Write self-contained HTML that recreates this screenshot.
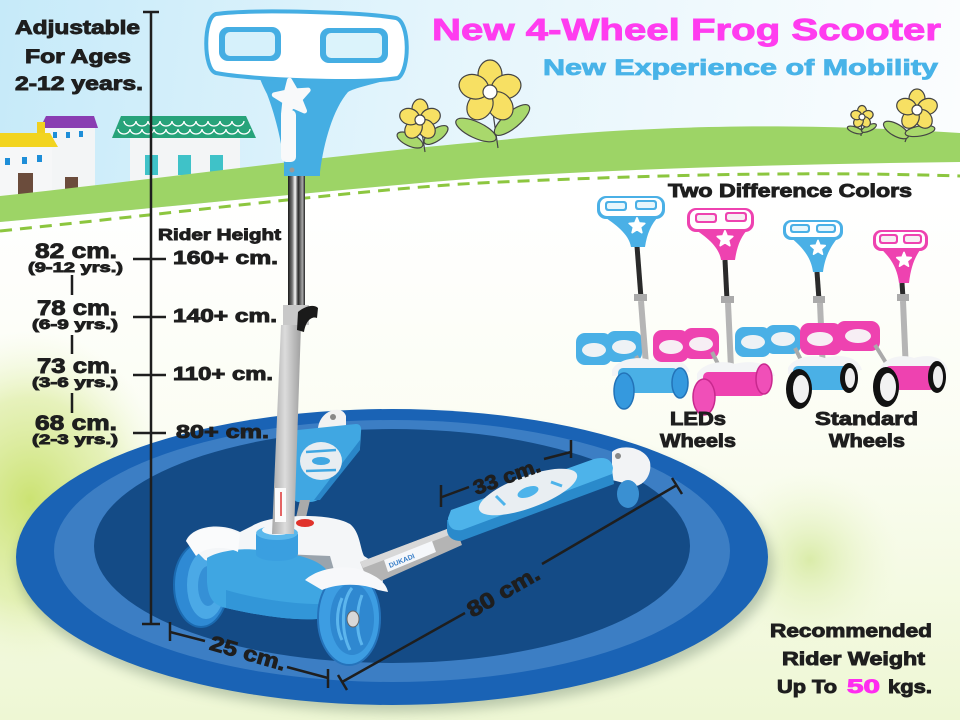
<!DOCTYPE html>
<html><head><meta charset="utf-8"><style>
html,body{margin:0;padding:0;width:960px;height:720px;overflow:hidden;background:#fff}
svg{display:block}
text{font-family:"Liberation Sans",Arial,sans-serif;font-weight:bold}
.k{fill:#1e1e1e;stroke:#1e1e1e;stroke-width:0.9}
</style></head><body>
<svg width="960" height="720" viewBox="0 0 960 720" xmlns="http://www.w3.org/2000/svg">
<defs>
<linearGradient id="sky" x1="0" y1="0" x2="960" y2="120" gradientUnits="userSpaceOnUse">
 <stop offset="0" stop-color="#c6eaf9"/>
 <stop offset="0.45" stop-color="#e4f5fc"/>
 <stop offset="1" stop-color="#fbfdfe"/>
</linearGradient>
<linearGradient id="ground" x1="0" y1="200" x2="0" y2="720" gradientUnits="userSpaceOnUse">
 <stop offset="0" stop-color="#ffffff"/>
 <stop offset="0.45" stop-color="#fbfdf3"/>
 <stop offset="1" stop-color="#eef7d4"/>
</linearGradient>
<radialGradient id="grassL" cx="0.5" cy="0.5" r="0.5">
 <stop offset="0" stop-color="#c9e16c" stop-opacity="0.95"/>
 <stop offset="0.6" stop-color="#d8ea95" stop-opacity="0.6"/>
 <stop offset="1" stop-color="#eef7d4" stop-opacity="0"/>
</radialGradient>
<radialGradient id="grassR" cx="0.5" cy="0.5" r="0.5">
 <stop offset="0" stop-color="#d3e89a" stop-opacity="0.8"/>
 <stop offset="1" stop-color="#eef7d4" stop-opacity="0"/>
</radialGradient>
<linearGradient id="chrome" x1="0" y1="0" x2="1" y2="0">
 <stop offset="0" stop-color="#1a1a1a"/>
 <stop offset="0.25" stop-color="#777"/>
 <stop offset="0.42" stop-color="#fafafa"/>
 <stop offset="0.6" stop-color="#2a2a2a"/>
 <stop offset="0.85" stop-color="#aaa"/>
 <stop offset="1" stop-color="#222"/>
</linearGradient>
<linearGradient id="grey" x1="0" y1="0" x2="1" y2="0">
 <stop offset="0" stop-color="#a9a9a9"/>
 <stop offset="0.45" stop-color="#dcdcdc"/>
 <stop offset="1" stop-color="#a0a0a0"/>
</linearGradient>
<filter id="blur6"><feGaussianBlur stdDeviation="6"/></filter>
</defs>

<!-- BACKGROUND -->
<rect x="0" y="0" width="960" height="260" fill="url(#sky)"/>
<path d="M0,222 C160,208 330,190 480,178 C640,168 800,164 960,162 L960,720 L0,720 Z" fill="url(#ground)"/>
<ellipse cx="30" cy="500" rx="140" ry="170" fill="url(#grassL)"/>
<ellipse cx="810" cy="560" rx="90" ry="90" fill="url(#grassR)"/>

<!-- houses -->
<rect x="45" y="126" width="50" height="70" fill="#f3f5f6"/>
<path d="M40,128 L46,116 L94,116 L98,128 Z" fill="#8a3db2"/>
<rect x="53" y="132" width="4" height="6" fill="#1e8ed8"/><rect x="66" y="132" width="4" height="6" fill="#1e8ed8"/><rect x="79" y="131" width="4" height="6" fill="#1e8ed8"/>
<rect x="65" y="177" width="13" height="19" fill="#6b4c3c"/>
<rect x="37" y="122" width="8" height="13" fill="#f0d020"/>
<rect x="0" y="146" width="52" height="52" fill="#f6f7f8"/>
<path d="M0,133 L50,133 L58,147 L0,147 Z" fill="#f2d420"/>
<rect x="5" y="158" width="5" height="7" fill="#1e8ed8"/><rect x="22" y="157" width="5" height="7" fill="#1e8ed8"/><rect x="37" y="155" width="5" height="7" fill="#1e8ed8"/>
<rect x="18" y="173" width="15" height="24" fill="#6b4c3c"/>
<rect x="130" y="137" width="110" height="50" fill="#f3f5f6"/>
<path d="M121,116 L246,116 L256,138 L112,138 Z" fill="#27a37a"/>
<path d="M124,121 a6,5 0 0 0 12,0 a6,5 0 0 0 12,0 a6,5 0 0 0 12,0 a6,5 0 0 0 12,0 a6,5 0 0 0 12,0 a6,5 0 0 0 12,0 a6,5 0 0 0 12,0 a6,5 0 0 0 12,0 a6,5 0 0 0 12,0 a6,5 0 0 0 12,0 M118,129 a6,5 0 0 0 12,0 a6,5 0 0 0 12,0 a6,5 0 0 0 12,0 a6,5 0 0 0 12,0 a6,5 0 0 0 12,0 a6,5 0 0 0 12,0 a6,5 0 0 0 12,0 a6,5 0 0 0 12,0 a6,5 0 0 0 12,0 a6,5 0 0 0 12,0 a6,5 0 0 0 12,0" fill="none" stroke="#fff" stroke-width="1.3"/>
<rect x="145" y="155" width="13" height="20" fill="#3fc2c8"/><rect x="178" y="155" width="13" height="20" fill="#3fc2c8"/><rect x="210" y="155" width="13" height="20" fill="#3fc2c8"/>

<!-- green hill -->
<path d="M0,196 C150,180 330,155 480,142 C620,128 760,120 960,133 L960,162 C800,164 640,168 480,178 C330,190 160,208 0,222 Z" fill="#9dd466"/>
<path d="M0,231 C200,210 380,188 480,183 C650,175 800,171 960,176" fill="none" stroke="#8cc63f" stroke-width="3" stroke-dasharray="12 8"/>

<!-- flowers -->
<g stroke="#444" stroke-width="1.2">
 <line x1="420" y1="120" x2="425" y2="152"/>
 <ellipse cx="410" cy="140" rx="14" ry="6" transform="rotate(25 410 140)" fill="#a9d86c"/>
 <ellipse cx="436" cy="135" rx="14" ry="6" transform="rotate(-35 436 135)" fill="#a9d86c"/>
 <g transform="translate(420,120)" fill="#f7e063">
  <ellipse cx="0" cy="-11" rx="8" ry="10"/><ellipse cx="0" cy="-11" rx="8" ry="10" transform="rotate(72)"/><ellipse cx="0" cy="-11" rx="8" ry="10" transform="rotate(144)"/><ellipse cx="0" cy="-11" rx="8" ry="10" transform="rotate(216)"/><ellipse cx="0" cy="-11" rx="8" ry="10" transform="rotate(288)"/>
  <circle r="5" fill="#fff"/>
 </g>
 <line x1="490" y1="92" x2="498" y2="148"/>
 <ellipse cx="476" cy="130" rx="22" ry="8" transform="rotate(25 476 130)" fill="#a9d86c"/>
 <ellipse cx="512" cy="120" rx="22" ry="8" transform="rotate(-40 512 120)" fill="#a9d86c"/>
 <g transform="translate(490,92)" fill="#f7e063">
  <ellipse cx="0" cy="-17" rx="12" ry="15"/><ellipse cx="0" cy="-17" rx="12" ry="15" transform="rotate(72)"/><ellipse cx="0" cy="-17" rx="12" ry="15" transform="rotate(144)"/><ellipse cx="0" cy="-17" rx="12" ry="15" transform="rotate(216)"/><ellipse cx="0" cy="-17" rx="12" ry="15" transform="rotate(288)"/>
  <circle r="7" fill="#fff"/>
 </g>
 <line x1="862" y1="118" x2="861" y2="136"/>
 <ellipse cx="855" cy="130" rx="8" ry="3" transform="rotate(20 855 130)" fill="#a9d86c"/>
 <ellipse cx="869" cy="128" rx="8" ry="3" transform="rotate(-25 869 128)" fill="#a9d86c"/>
 <g transform="translate(862,117)" fill="#f7e063">
  <ellipse cx="0" cy="-6" rx="4.5" ry="5.5"/><ellipse cx="0" cy="-6" rx="4.5" ry="5.5" transform="rotate(72)"/><ellipse cx="0" cy="-6" rx="4.5" ry="5.5" transform="rotate(144)"/><ellipse cx="0" cy="-6" rx="4.5" ry="5.5" transform="rotate(216)"/><ellipse cx="0" cy="-6" rx="4.5" ry="5.5" transform="rotate(288)"/>
  <circle r="3" fill="#fff"/>
 </g>
 <line x1="917" y1="110" x2="905" y2="142"/>
 <ellipse cx="896" cy="130" rx="14" ry="6" transform="rotate(30 896 130)" fill="#a9d86c"/>
 <ellipse cx="920" cy="131" rx="15" ry="5" transform="rotate(-10 920 131)" fill="#a9d86c"/>
 <g transform="translate(917,110)" fill="#f7e063">
  <ellipse cx="0" cy="-11" rx="8" ry="10"/><ellipse cx="0" cy="-11" rx="8" ry="10" transform="rotate(72)"/><ellipse cx="0" cy="-11" rx="8" ry="10" transform="rotate(144)"/><ellipse cx="0" cy="-11" rx="8" ry="10" transform="rotate(216)"/><ellipse cx="0" cy="-11" rx="8" ry="10" transform="rotate(288)"/>
  <circle r="5" fill="#fff"/>
 </g>
</g>

<!-- BIG ELLIPSE -->
<ellipse cx="395" cy="566" rx="378" ry="146" fill="#55705a" opacity="0.35" filter="url(#blur6)"/>
<ellipse cx="392" cy="557" rx="376" ry="148" fill="#1a63b5"/>
<ellipse cx="392" cy="551" rx="338" ry="131" fill="#3c7ec4"/>
<ellipse cx="392" cy="546" rx="298" ry="117" fill="#144b86"/>

<!-- MAIN SCOOTER -->
<path d="M318,428 C320,410 342,404 346,416 L346,430 L320,432 Z" fill="#f2f2f2"/>
<circle cx="333" cy="417" r="3" fill="#888"/>
<path d="M298,430 L356,424 Q362,424 361,432 L360,448 L320,498 Q316,502 310,502 L298,502 Q293,501 294,495 L294,436 Q294,431 298,430 Z" fill="#40a7e2"/>
<path d="M360,440 L360,450 L320,500 L314,500 Z" fill="#2a86c8"/>
<ellipse cx="321" cy="461" rx="21" ry="19" fill="#e8edf1"/>
<ellipse cx="321" cy="461" rx="9" ry="4" fill="#40a7e2"/>
<path d="M306,452 L336,450 M306,471 L336,470" stroke="#40a7e2" stroke-width="2.5"/>
<path d="M300,500 L310,500 L305,522 L295,522 Z" fill="#aaa"/>

<ellipse cx="201" cy="585" rx="27" ry="42" fill="#2f8ad4" stroke="#1b6ab0" stroke-width="2"/>
<ellipse cx="206" cy="585" rx="19" ry="34" fill="#4ba9e6"/>
<ellipse cx="208" cy="586" rx="10" ry="20" fill="#3590d6"/>

<path d="M186,541 C192,526 220,522 240,532 L252,526 C270,514 330,512 350,524 C360,532 360,548 364,556 C374,562 386,572 382,586 L330,584 L240,570 L205,560 Z" fill="#f4f6f8"/>
<ellipse cx="305" cy="523" rx="9" ry="4" fill="#e0332c"/>
<path d="M258,553 L330,556 L334,570 L262,566 Z" fill="#9aa4ad"/>
<path d="M207,558 C220,550 245,548 258,550 L300,556 C315,560 328,566 332,580 L326,618 C300,622 260,616 226,608 C212,605 208,596 207,582 Z" fill="#3fa6e2"/>
<path d="M226,590 C260,600 300,605 328,604 L326,618 C300,622 260,616 226,608 Z" fill="#3296d8"/>
<rect x="256" y="534" width="42" height="20" fill="#3a9fe0"/>
<ellipse cx="277" cy="554" rx="21" ry="7" fill="#3a9fe0"/>
<ellipse cx="277" cy="533" rx="21" ry="7" fill="#5bb8ec"/>
<ellipse cx="277" cy="530" rx="15" ry="5" fill="#f4f6f8"/>
<path d="M186,541 C194,526 222,524 240,534 L238,552 C226,546 206,546 196,556 Z" fill="#fafbfc"/>

<path d="M360,562 L455,526 L462,545 L370,586 Z" fill="#b4b4b4"/>
<path d="M360,562 L455,526 L457,532 L363,568 Z" fill="#d8d8d8"/>
<path d="M384,560 L432,541 L436,552 L388,572 Z" fill="#f5f7fa"/>
<text x="0" y="0" font-size="7" fill="#3a7fc8" transform="translate(390,568) rotate(-22)">DUKADI</text>

<ellipse cx="349" cy="618" rx="31" ry="47" fill="#3d9de2" stroke="#2573bb" stroke-width="2"/>
<ellipse cx="352" cy="619" rx="22" ry="36" fill="#2f88d0"/>
<path d="M352,588 C342,600 340,630 350,650 M362,595 C356,610 356,632 362,645 M342,598 C336,612 336,628 342,640" stroke="#5cb6ee" stroke-width="3" fill="none"/>
<ellipse cx="353" cy="619" rx="6" ry="8" fill="#d8d8d8" stroke="#666" stroke-width="1"/>
<path d="M305,580 C320,566 352,564 366,572 C376,576 386,582 388,592 L378,590 C366,584 340,582 322,590 Z" fill="#f7f8fa"/>

<path d="M612,452 C620,444 645,446 650,462 C652,474 645,484 636,486 L612,480 Z" fill="#f2f3f5"/>
<circle cx="618" cy="456" r="3" fill="#888"/>
<ellipse cx="628" cy="494" rx="11" ry="14" fill="#3a90d2"/>
<path d="M447,520 L612,470 L614,484 L461,541 Q449,541 447,531 Z" fill="#2a8acb"/>
<path d="M451,510 L594,459 Q611,455 613,468 L612,474 L462,530 Q448,532 448,518 Z" fill="#4db3ea"/>
<ellipse cx="528" cy="492" rx="52" ry="16" transform="rotate(-20 528 492)" fill="#e9eef2"/>
<ellipse cx="528" cy="492" rx="11" ry="5" transform="rotate(-20 528 492)" fill="#4db3ea"/>
<path d="M505,505 L496,496 M551,482 L562,486" stroke="#4db3ea" stroke-width="3"/>

<path d="M281,325 L301,325 L294,534 L272,534 Z" fill="url(#grey)"/>
<rect x="275" y="488" width="11" height="34" fill="#fafafa"/>
<line x1="281" y1="492" x2="281" y2="516" stroke="#d33" stroke-width="1.5"/>
<rect x="288" y="172" width="17" height="138" fill="url(#chrome)"/>
<rect x="283" y="305" width="26" height="20" fill="#c8c8c8"/>
<path d="M298,312 C305,306 314,304 318,308 L317,318 C312,316 306,320 304,332 L297,330 Z" fill="#1a1a1a"/>

<!-- handlebar -->
<path d="M258,68 L402,70 C396,82 362,84 348,92 C334,108 324,140 320,172 L285,172 C282,140 274,112 267,94 C262,84 258,76 258,68 Z" fill="#45aee3"/>
<path d="M216,14 C252,9 362,12 396,18 C410,22 410,70 398,78 C362,84 252,80 216,73 C203,70 203,17 216,14 Z" fill="#fff" stroke="#45aee3" stroke-width="4"/>
<rect x="219" y="27" width="62" height="34" rx="9" fill="#45aee3"/>
<rect x="225" y="32" width="50" height="24" rx="5" fill="#d6f1fb"/>
<rect x="320" y="28" width="68" height="35" rx="9" fill="#45aee3"/>
<rect x="326" y="33" width="56" height="25" rx="5" fill="#dbf3fb"/>
<rect x="281" y="110" width="15" height="52" rx="5" fill="#f8f9fa"/>
<polygon transform="translate(292,98) rotate(-8)" points="0,-18 4.7,-6.5 17.1,-5.6 7.6,2.5 10.6,14.6 0,8 -10.6,14.6 -7.6,2.5 -17.1,-5.6 -4.7,-6.5" fill="#f8f9fa" stroke="#f8f9fa" stroke-width="5" stroke-linejoin="round"/>
<rect x="284" y="164" width="36" height="12" fill="#45aee3"/>
<circle cx="292" cy="170" r="2.5" fill="#999"/>

<!-- SMALL SCOOTERS -->
<g>
 <rect x="576" y="333" width="36" height="32" rx="9" fill="#4ab0e6"/><rect x="606" y="331" width="36" height="31" rx="9" fill="#4ab0e6"/>
 <ellipse cx="594" cy="350" rx="12" ry="7" fill="#eef2f5"/><ellipse cx="624" cy="347" rx="12" ry="7" fill="#eef2f5"/>
 <line x1="636" y1="356" x2="645" y2="372" stroke="#aaa" stroke-width="4"/>
 <line x1="637" y1="246" x2="641" y2="298" stroke="#2a2a2a" stroke-width="5"/>
 <rect x="634" y="294" width="13" height="7" fill="#aaa"/>
 <line x1="641" y1="301" x2="646" y2="365" stroke="#b5b5b5" stroke-width="6"/>
 <path d="M612,370 C618,358 640,356 650,360 C665,356 685,358 690,372 L612,376 Z" fill="#f3f4f6"/>
 <rect x="618" y="368" width="60" height="25" rx="5" fill="#4ab0e6"/>
 <ellipse cx="624" cy="391" rx="10" ry="18" fill="#3599de" stroke="#2373b8" stroke-width="1.5"/>
 <ellipse cx="680" cy="383" rx="8" ry="15" fill="#3599de" stroke="#2373b8" stroke-width="1.5"/>
 <g transform="translate(597,196)">
  <path d="M6,20 L62,20 C54,28 50,38 48,51 L34,51 C32,38 18,28 6,20 Z" fill="#4ab0e6"/>
  <rect x="0" y="0" width="68" height="23" rx="9" fill="#4ab0e6"/><rect x="3" y="2" width="62" height="18" rx="7" fill="#fff"/>
  <rect x="8" y="5" width="22" height="10" rx="3" fill="#4ab0e6"/><rect x="10" y="7" width="18" height="6" rx="2" fill="#e6f6fc"/>
  <rect x="38" y="4" width="22" height="10" rx="3" fill="#4ab0e6"/><rect x="40" y="6" width="18" height="6" rx="2" fill="#e6f6fc"/>
  <polygon transform="translate(40,30) scale(0.45)" points="0,-18 4.7,-6.5 17.1,-5.6 7.6,2.5 10.6,14.6 0,8 -10.6,14.6 -7.6,2.5 -17.1,-5.6 -4.7,-6.5" fill="#fff" stroke="#fff" stroke-width="4" stroke-linejoin="round"/>
 </g>
</g>
<g>
 <rect x="653" y="330" width="36" height="32" rx="9" fill="#ee42b0"/><rect x="683" y="328" width="36" height="31" rx="9" fill="#ee42b0"/>
 <ellipse cx="671" cy="347" rx="12" ry="7" fill="#f7eef4"/><ellipse cx="701" cy="344" rx="12" ry="7" fill="#f7eef4"/>
 <line x1="712" y1="352" x2="722" y2="372" stroke="#aaa" stroke-width="4"/>
 <line x1="725" y1="260" x2="727" y2="300" stroke="#2a2a2a" stroke-width="5"/>
 <rect x="721" y="296" width="13" height="7" fill="#aaa"/>
 <line x1="728" y1="303" x2="731" y2="368" stroke="#b5b5b5" stroke-width="6"/>
 <path d="M697,374 C703,362 725,360 735,364 C750,360 770,362 775,376 L697,380 Z" fill="#f3f4f6"/>
 <rect x="703" y="372" width="62" height="24" rx="5" fill="#ee42b0"/>
 <ellipse cx="704" cy="397" rx="11" ry="18" fill="#f04fb8" stroke="#c8288e" stroke-width="1.5"/>
 <ellipse cx="764" cy="379" rx="8" ry="15" fill="#f04fb8" stroke="#c8288e" stroke-width="1.5"/>
 <g transform="translate(687,208)">
  <path d="M6,20 L62,20 C54,28 50,38 48,52 L34,52 C32,38 18,28 6,20 Z" fill="#ee42b0"/>
  <rect x="0" y="0" width="67" height="24" rx="9" fill="#ee42b0"/><rect x="3" y="2" width="61" height="19" rx="7" fill="#fff"/>
  <rect x="8" y="5" width="22" height="10" rx="3" fill="#ee42b0"/><rect x="10" y="7" width="18" height="6" rx="2" fill="#f6eef3"/>
  <rect x="38" y="4" width="22" height="10" rx="3" fill="#ee42b0"/><rect x="40" y="6" width="18" height="6" rx="2" fill="#f6eef3"/>
  <polygon transform="translate(38,31) scale(0.45)" points="0,-18 4.7,-6.5 17.1,-5.6 7.6,2.5 10.6,14.6 0,8 -10.6,14.6 -7.6,2.5 -17.1,-5.6 -4.7,-6.5" fill="#fff" stroke="#fff" stroke-width="4" stroke-linejoin="round"/>
 </g>
</g>
<g>
 <rect x="735" y="327" width="36" height="30" rx="9" fill="#4ab0e6"/><rect x="765" y="325" width="36" height="29" rx="9" fill="#4ab0e6"/>
 <ellipse cx="753" cy="342" rx="12" ry="7" fill="#eef2f5"/><ellipse cx="783" cy="339" rx="12" ry="7" fill="#eef2f5"/>
 <line x1="795" y1="348" x2="805" y2="368" stroke="#aaa" stroke-width="4"/>
 <line x1="817" y1="272" x2="819" y2="300" stroke="#2a2a2a" stroke-width="5"/>
 <rect x="813" y="296" width="12" height="7" fill="#aaa"/>
 <line x1="820" y1="303" x2="823" y2="372" stroke="#b5b5b5" stroke-width="6"/>
 <path d="M788,368 C794,356 815,354 825,358 C840,354 858,356 862,370 L788,374 Z" fill="#f3f4f6"/>
 <rect x="793" y="366" width="58" height="24" rx="5" fill="#4ab0e6"/>
 <ellipse cx="799" cy="389" rx="13" ry="20" fill="#111"/><ellipse cx="801" cy="389" rx="8" ry="14" fill="#f2f2f2"/>
 <ellipse cx="849" cy="378" rx="9" ry="15" fill="#111"/><ellipse cx="850" cy="378" rx="5" ry="10" fill="#eee"/>
 <g transform="translate(783,220)">
  <path d="M6,16 L56,16 C48,26 42,36 40,52 L30,52 C28,36 18,26 6,16 Z" fill="#4ab0e6"/>
  <rect x="0" y="0" width="60" height="20" rx="8" fill="#4ab0e6"/><rect x="3" y="2" width="54" height="15" rx="6" fill="#fff"/>
  <rect x="7" y="4" width="20" height="9" rx="3" fill="#4ab0e6"/><rect x="9" y="6" width="16" height="5" rx="2" fill="#e6f6fc"/>
  <rect x="33" y="4" width="20" height="9" rx="3" fill="#4ab0e6"/><rect x="35" y="6" width="16" height="5" rx="2" fill="#e6f6fc"/>
  <polygon transform="translate(35,28) scale(0.42)" points="0,-18 4.7,-6.5 17.1,-5.6 7.6,2.5 10.6,14.6 0,8 -10.6,14.6 -7.6,2.5 -17.1,-5.6 -4.7,-6.5" fill="#fff" stroke="#fff" stroke-width="4" stroke-linejoin="round"/>
 </g>
</g>
<g>
 <rect x="800" y="323" width="42" height="32" rx="9" fill="#ee42b0"/><rect x="836" y="321" width="44" height="30" rx="9" fill="#ee42b0"/>
 <ellipse cx="820" cy="339" rx="13" ry="7" fill="#f7eef4"/><ellipse cx="858" cy="336" rx="13" ry="7" fill="#f7eef4"/>
 <line x1="875" y1="345" x2="888" y2="366" stroke="#aaa" stroke-width="4"/>
 <line x1="902" y1="283" x2="903" y2="298" stroke="#2a2a2a" stroke-width="5"/>
 <rect x="897" y="294" width="12" height="7" fill="#aaa"/>
 <line x1="903" y1="301" x2="906" y2="372" stroke="#b5b5b5" stroke-width="6"/>
 <path d="M880,368 C886,356 905,354 914,358 C928,354 944,356 948,370 L880,374 Z" fill="#f3f4f6"/>
 <rect x="885" y="366" width="50" height="24" rx="5" fill="#ee42b0"/>
 <ellipse cx="886" cy="387" rx="13" ry="20" fill="#111"/><ellipse cx="888" cy="387" rx="8" ry="14" fill="#f2f2f2"/>
 <ellipse cx="937" cy="377" rx="9" ry="16" fill="#111"/><ellipse cx="938" cy="377" rx="5" ry="11" fill="#eee"/>
 <g transform="translate(873,230)">
  <path d="M5,16 L50,16 C42,26 38,36 36,53 L26,53 C24,36 16,26 5,16 Z" fill="#ee42b0"/>
  <rect x="0" y="0" width="55" height="21" rx="8" fill="#ee42b0"/><rect x="3" y="2" width="49" height="16" rx="6" fill="#fff"/>
  <rect x="6" y="4" width="19" height="10" rx="3" fill="#ee42b0"/><rect x="8" y="6" width="15" height="6" rx="2" fill="#f6eef3"/>
  <rect x="30" y="4" width="19" height="10" rx="3" fill="#ee42b0"/><rect x="32" y="6" width="15" height="6" rx="2" fill="#f6eef3"/>
  <polygon transform="translate(31,30) scale(0.42)" points="0,-18 4.7,-6.5 17.1,-5.6 7.6,2.5 10.6,14.6 0,8 -10.6,14.6 -7.6,2.5 -17.1,-5.6 -4.7,-6.5" fill="#fff" stroke="#fff" stroke-width="4" stroke-linejoin="round"/>
 </g>
</g>

<!-- MEASUREMENT LINES -->
<g stroke="#1e1e1e" stroke-width="2.5" fill="none">
 <line x1="151" y1="12" x2="151" y2="624"/>
 <line x1="143" y1="12" x2="159" y2="12"/>
 <line x1="142" y1="624" x2="160" y2="624"/>
 <line x1="133" y1="259" x2="166" y2="259"/>
 <line x1="133" y1="317" x2="166" y2="317"/>
 <line x1="133" y1="375" x2="166" y2="375"/>
 <line x1="133" y1="433" x2="166" y2="433"/>
 <line x1="72" y1="275" x2="72" y2="295"/>
 <line x1="72" y1="335" x2="72" y2="354"/>
 <line x1="72" y1="393" x2="72" y2="413"/>
 <line x1="170" y1="622" x2="170" y2="641"/>
 <line x1="170" y1="632" x2="205" y2="641"/>
 <line x1="287" y1="667" x2="328" y2="678"/>
 <line x1="328" y1="669" x2="328" y2="688"/>
 <line x1="338" y1="675" x2="347" y2="690"/>
 <line x1="342" y1="682" x2="465" y2="613"/>
 <line x1="542" y1="564" x2="677" y2="485"/>
 <line x1="672" y1="478" x2="682" y2="494"/>
 <line x1="441" y1="485" x2="441" y2="507"/>
 <line x1="442" y1="497" x2="469" y2="487"/>
 <line x1="544" y1="459" x2="571" y2="452"/>
 <line x1="571" y1="440" x2="571" y2="458"/>
</g>

<!-- TEXT -->
<text class="k" x="15" y="34" font-size="19" textLength="125" lengthAdjust="spacingAndGlyphs">Adjustable</text>
<text class="k" x="25" y="63" font-size="19" textLength="106" lengthAdjust="spacingAndGlyphs">For Ages</text>
<text class="k" x="15" y="90" font-size="19" textLength="128" lengthAdjust="spacingAndGlyphs">2-12 years.</text>

<text x="432" y="40" font-size="31" fill="#ff3cef" stroke="#ff3cef" stroke-width="0.9" textLength="509" lengthAdjust="spacingAndGlyphs">New 4-Wheel Frog Scooter</text>
<text x="543" y="75" font-size="22" fill="#48b3e8" stroke="#48b3e8" stroke-width="0.8" textLength="395" lengthAdjust="spacingAndGlyphs">New Experience of Mobility</text>
<text class="k" x="668" y="197" font-size="18" textLength="244" lengthAdjust="spacingAndGlyphs">Two Difference Colors</text>

<text class="k" x="158" y="240" font-size="16" textLength="123" lengthAdjust="spacingAndGlyphs">Rider Height</text>
<text class="k" x="173" y="264" font-size="18" textLength="105" lengthAdjust="spacingAndGlyphs">160+ cm.</text>
<text class="k" x="173" y="322" font-size="18" textLength="104" lengthAdjust="spacingAndGlyphs">140+ cm.</text>
<text class="k" x="173" y="380" font-size="18" textLength="100" lengthAdjust="spacingAndGlyphs">110+ cm.</text>
<text class="k" x="176" y="438" font-size="18" textLength="93" lengthAdjust="spacingAndGlyphs">80+ cm.</text>

<text class="k" x="35" y="258" font-size="21" textLength="82" lengthAdjust="spacingAndGlyphs">82 cm.</text>
<text class="k" x="28" y="272" font-size="14" textLength="95" lengthAdjust="spacingAndGlyphs">(9-12 yrs.)</text>
<text class="k" x="37" y="315" font-size="21" textLength="80" lengthAdjust="spacingAndGlyphs">78 cm.</text>
<text class="k" x="32" y="329" font-size="14" textLength="86" lengthAdjust="spacingAndGlyphs">(6-9 yrs.)</text>
<text class="k" x="37" y="373" font-size="21" textLength="80" lengthAdjust="spacingAndGlyphs">73 cm.</text>
<text class="k" x="32" y="387" font-size="14" textLength="86" lengthAdjust="spacingAndGlyphs">(3-6 yrs.)</text>
<text class="k" x="35" y="430" font-size="21" textLength="82" lengthAdjust="spacingAndGlyphs">68 cm.</text>
<text class="k" x="32" y="444" font-size="14" textLength="86" lengthAdjust="spacingAndGlyphs">(2-3 yrs.)</text>

<text class="k" x="670" y="425" font-size="18" textLength="56" lengthAdjust="spacingAndGlyphs">LEDs</text>
<text class="k" x="660" y="447" font-size="18" textLength="76" lengthAdjust="spacingAndGlyphs">Wheels</text>
<text class="k" x="815" y="425" font-size="18" textLength="103" lengthAdjust="spacingAndGlyphs">Standard</text>
<text class="k" x="829" y="447" font-size="18" textLength="76" lengthAdjust="spacingAndGlyphs">Wheels</text>

<text class="k" x="770" y="637" font-size="18" textLength="162" lengthAdjust="spacingAndGlyphs">Recommended</text>
<text class="k" x="782" y="665" font-size="18" textLength="143" lengthAdjust="spacingAndGlyphs">Rider Weight</text>
<text class="k" x="777" y="693" font-size="18" textLength="60" lengthAdjust="spacingAndGlyphs">Up To</text>
<text x="847" y="693" font-size="19" fill="#ff2cf0" stroke="#ff2cf0" stroke-width="0.9" textLength="33" lengthAdjust="spacingAndGlyphs">50</text>
<text class="k" x="888" y="693" font-size="18" textLength="44" lengthAdjust="spacingAndGlyphs">kgs.</text>

<text class="k" transform="translate(246,660) rotate(16)" text-anchor="middle" font-size="21" textLength="78" lengthAdjust="spacingAndGlyphs">25 cm.</text>
<text class="k" transform="translate(507,598) rotate(-30)" text-anchor="middle" font-size="22" textLength="80" lengthAdjust="spacingAndGlyphs">80 cm.</text>
<text class="k" transform="translate(509,483) rotate(-20)" text-anchor="middle" font-size="20" textLength="70" lengthAdjust="spacingAndGlyphs">33 cm.</text>
</svg>
</body></html>
